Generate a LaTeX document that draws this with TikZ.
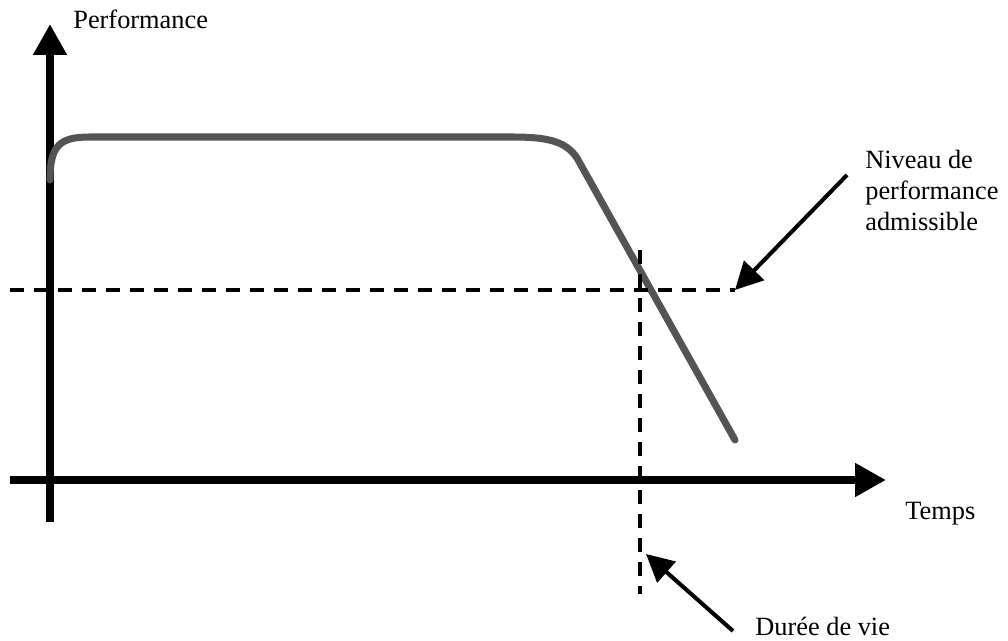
\documentclass[tikz,border=0pt]{standalone}
\usepackage{fontspec}
\setmainfont{Liberation Serif}
\usepackage{tikz}
\usetikzlibrary{arrows.meta}
\usetikzlibrary{positioning}

\begin{document}
\begin{tikzpicture}[
x=0.02cm, y=-0.02cm,
every node/.style={inner sep=0, font=\fontsize{15}{17.6}\selectfont},
axis/.style={line width=4.5pt, -{Triangle[length=0.62cm, width=0.64cm]}},
curve/.style={line width=4pt, color=black!67, line cap=round},
dashline/.style={line width=2pt, dash pattern=on 0.28cm off 0.2cm},
pointer/.style={line width=2.3pt, -{Triangle[length=0.55cm, width=0.55cm]}}
]
\useasboundingbox (0,0) rectangle (1008,641);
\coordinate (o1) at (50,522);
\coordinate (ytip) at (50,24);
\coordinate (o2) at (10,480);
\coordinate (xtip) at (886,480);
\coordinate (h1) at (10,290);
\coordinate (h2) at (735,290);
\coordinate (v1) at (640,250);
\coordinate (v2) at (640,594);
\coordinate (dv) at (646,554);
\coordinate (nt) at (847,175);
\coordinate (dt) at (733,631);
\node [anchor=base west] (perf) at (73,29) {Performance};
\node [anchor=base west] (temps) at (905,520) {Temps};
\node [anchor=base west] (duree) at (755,636) {Durée de vie};
\node [anchor=north west, align=left] (niveau) at (865,150) {Niveau de\\performance\\admissible};
\draw[axis] (o1) -- (ytip);
\draw[axis] (o2) -- (xtip);
\draw[curve] (50,180) .. controls (50,145) and (60,137) .. (90,137) -- (510,137)
  .. controls (545,137) and (565,140) .. (577,158) -- (735,440);
\draw[dashline] (h1) -- (h2);
\draw[dashline] (v1) -- (v2);
\draw[pointer] (nt) -- (h2);
\draw[pointer] (dt) -- (dv);
\end{tikzpicture}
\end{document}
